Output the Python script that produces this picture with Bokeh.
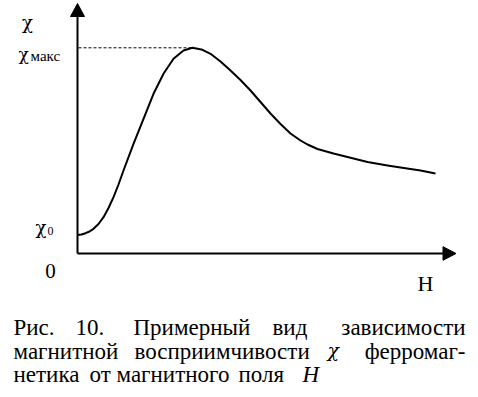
from bokeh.plotting import figure
from bokeh.models import Range1d
from bokeh.core.properties import value
from bokeh.embed import file_html
from bokeh.resources import INLINE

# ---- data (H in arbitrary units, chi in arbitrary units) ----
H = [0.0, 0.4, 0.8, 1.2, 1.6, 2.1, 2.6, 3.1, 3.6, 4.1, 4.6, 5.6, 6.6, 7.6,
     8.6, 9.6, 10.6, 11.5, 12.5, 13.3, 14.3, 15.3, 16.3, 17.3, 18.3, 19.3,
     20.3, 21.3, 22.3, 23.0, 24.0, 25.6, 27.6, 29.0, 31.0, 32.3, 34.3, 35.8]
chi = [1.85, 1.9, 2.03, 2.2, 2.47, 2.95, 3.63, 4.55, 5.63, 6.9, 8.3, 10.97,
       13.47, 15.97, 17.97, 19.47, 20.3, 20.57, 20.37, 19.97, 19.2, 18.3,
       17.35, 16.3, 15.15, 14.0, 12.95, 12.0, 11.3, 10.9, 10.45, 10.0, 9.5,
       9.15, 8.8, 8.6, 8.3, 8.0]
chi_max = 20.57
H_at_max = 11.5
axis_x_end = 37.85
axis_y_end = 25.0

caption_lines = [
    ["Рис.", "10.", "Примерный", "вид", "зависимости"],
    ["магнитной", "восприимчивости", "χ", "ферромаг-"],
    ["нетика", "от", "магнитного", "поля", "H"],
]

FONT = "Liberation Serif"
GREEK = "DejaVu Serif"

p = figure(width=470, height=389, output_backend="svg", toolbar_location=None,
           x_range=Range1d(-7.7, 39.3), y_range=Range1d(-13.6, 25.3),
           min_border=0)
p.axis.visible = False
p.grid.visible = False
p.outline_line_color = None
p.background_fill_color = "white"
p.border_fill_color = "white"

# axes
p.line([0, 0], [0, axis_y_end - 1.3], line_color="black", line_width=2)
p.line([0, axis_x_end - 1.25], [0, 0], line_color="black", line_width=2)
p.patch([-0.7, 0.7, 0], [axis_y_end - 1.3, axis_y_end - 1.3, axis_y_end],
        fill_color="black", line_color="black", line_width=1)
p.patch([axis_x_end - 1.3, axis_x_end - 1.3, axis_x_end], [-0.68, 0.68, 0],
        fill_color="black", line_color="black", line_width=1)

# dashed max line
p.line([0.1, H_at_max], [chi_max, chi_max], line_color="black", line_width=1,
       line_dash="3 2")

# curve
p.line(H, chi, line_color="black", line_width=2, line_join="round")

px = lambda x: (x - 77) / 10.0
py = lambda y: (253 - y) / 10.0

def txt(x, y, s, size, align="left", style="normal", font=FONT):
    p.text(x=[px(x)], y=[py(y)], text=[s], text_font=value(font),
           text_font_size=value(f"{size}px"), text_align=align,
           text_baseline="middle", text_color="black", text_font_style=style)

# axis labels (positions in pixels of the picture)
txt(27, 22, "χ", 18, align="center", font=GREEK)
txt(18, 53, "χ", 17, font=GREEK)
txt(30, 55, "макс", 15)
txt(35, 227, "χ", 18, font=GREEK)
txt(47, 230, "0", 12)
txt(50, 270, "0", 21, align="center")
txt(425, 283, "H", 22, align="center")

# caption (justified by word placement)
lines_pos = [
    [13, 75, 133, 272, 465],
    [13, 134, 327, 465],
    [13, 89, 116, 238, 302],
]
middles = [326.5, 350.5, 374]
for li, (words, xs) in enumerate(zip(caption_lines, lines_pos)):
    for wi, (w, x) in enumerate(zip(words, xs)):
        last = (wi == len(words) - 1) and li < 2
        italic = (li == 1 and w == "χ") or (li == 2 and w == "H")
        greek = w == "χ"
        txt(x, middles[li] + (-1.5 if greek else 0), w, 19 if greek else 23,
            align="right" if last else "left",
            style="italic" if italic else "normal",
            font=GREEK if greek else FONT)

open("out.html", "w").write(file_html(p, INLINE))
